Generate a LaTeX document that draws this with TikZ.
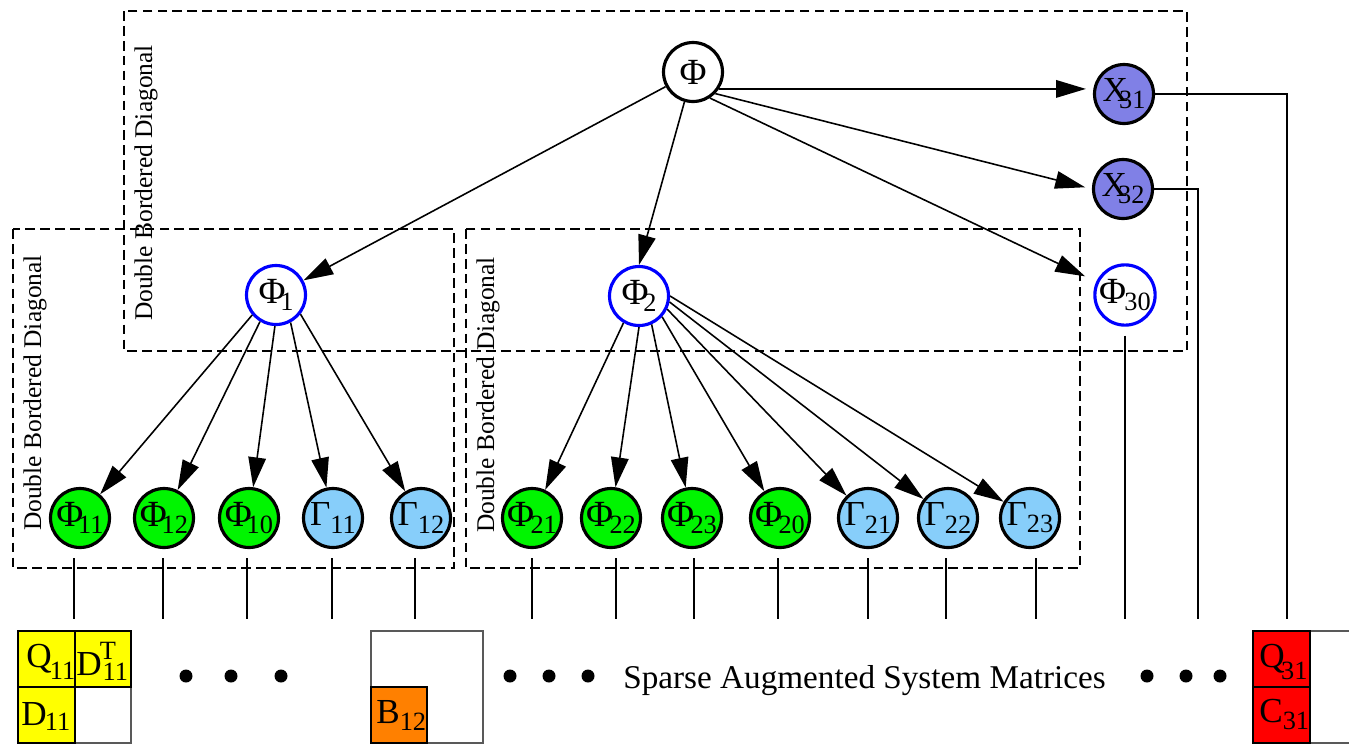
\documentclass[tikz,border=0pt]{standalone}
\usepackage{fontspec}
\setmainfont{Liberation Serif}
\usetikzlibrary{arrows.meta}

\definecolor{phigreen}{RGB}{0,245,0}
\definecolor{gamblue}{RGB}{135,206,250}
\definecolor{xviolet}{RGB}{128,128,230}
\definecolor{matyellow}{RGB}{255,255,0}
\definecolor{matorange}{RGB}{255,128,0}
\definecolor{matred}{RGB}{255,0,0}

\newcommand\bigsz{\fontsize{20}{22}\selectfont}
\newcommand\capsz{\fontsize{18.9}{21}\selectfont}
\newcommand\phisz{\fontsize{21}{22}\selectfont}
\newcommand\subsz{\fontsize{15}{16}\selectfont}
% letter, kern, subscript
\newcommand\nl[3]{#1\kern#2\raisebox{-4pt}{\subsz #3}}
\newcommand\Ph{{\phisz Φ}}

\begin{document}
\begin{tikzpicture}[x=0.02cm,y=-0.02cm,
  vert/.style={circle,draw,line width=1.8pt,minimum size=1.18cm,inner sep=0pt,font=\bigsz},
  root/.style={vert,fill=white},
  grn/.style={vert,fill=phigreen},
  gam/.style={vert,fill=gamblue},
  xv/.style={vert,fill=xviolet},
  blu/.style={vert,draw=blue,fill=white},
  arr/.style={-{Triangle[length=17pt,width=10pt]},line width=0.9pt},
  link/.style={line width=1pt},
  region/.style={draw,dash pattern=on 5.5pt off 3pt,line width=0.9pt},
  regtxt/.style={rotate=90,inner sep=0pt,font=\fontsize{14.5}{16}\selectfont},
  cell/.style={draw,line width=0.6pt},
  outer/.style={draw=black!65,line width=0.8pt},
  lbl/.style={anchor=base west,inner sep=0pt,font=\bigsz},
  dot/.style={circle,fill,inner sep=0pt,minimum size=0.26cm}
]
\useasboundingbox (0,0) rectangle (1349,744);

% dashed regions
\draw[region] (124,11) rectangle (1187,351);
\draw[region] (13,229) rectangle (454,568);
\draw[region] (466,229) rectangle (1080,568);
\node[regtxt] (rtop) at (146,183) {Double Bordered Diagonal};
\node[regtxt] (rleft) at (35,393) {Double Bordered Diagonal};
\node[regtxt] (rmid) at (488,395) {Double Bordered Diagonal};

% tree nodes
\node[root] (phi) at (693,72) {\Ph};
\node[xv] (x31) at (1124,94) {\nl{X}{-5pt}{31}};
\node[xv] (x32) at (1123,189) {\nl{X}{-5pt}{32}};
\node[blu] (p30) at (1125,295) {\nl{\Ph}{-1pt}{30}};
\node[blu] (p1) at (276,295) {\nl{\Ph}{-3pt}{1}};
\node[blu] (p2) at (639,296) {\nl{\Ph}{-3pt}{2}};

\node[grn] (f11) at (80,518) {\nl{\Ph}{-3pt}{11}};
\node[grn] (f12) at (164,518) {\nl{\Ph}{-3pt}{12}};
\node[grn] (f10) at (249,518) {\nl{\Ph}{-3pt}{10}};
\node[gam] (g11) at (333,518) {\nl{Γ}{0pt}{11}};
\node[gam] (g12) at (421,518) {\nl{Γ}{0pt}{12}};

\node[grn] (f21) at (532,518) {\nl{\Ph}{-2pt}{21}};
\node[grn] (f22) at (611,518) {\nl{\Ph}{-2pt}{22}};
\node[grn] (f23) at (692,518) {\nl{\Ph}{-2pt}{23}};
\node[grn] (f20) at (780,518) {\nl{\Ph}{-2pt}{20}};
\node[gam] (g21) at (868,518) {\nl{Γ}{0pt}{21}};
\node[gam] (g22) at (948,518) {\nl{Γ}{0pt}{22}};
\node[gam] (g23) at (1030,518) {\nl{Γ}{0pt}{23}};

% arrows from the root
\draw[arr] (phi) -- (p1);
\draw[arr] (phi.-106) -- (p2.north);
\draw[arr,shorten >=4pt] (phi.-33) -- (phi.-33 -| x31.west);
\draw[arr,shorten >=4pt] (phi.-44) -- (x32.west);
\draw[arr,shorten >=7pt] (phi.-57) -- (p30.155);

% arrows from Phi_1
\draw[arr] (p1.-140) -- (f11);
\draw[arr] (p1.-121) -- (f12);
\draw[arr] (p1.-92) -- (f10);
\draw[arr] (p1.-62) -- (g11);
\draw[arr] (p1.-38) -- (g12);

% arrows from Phi_2
\draw[arr] (p2.-120) -- (f21);
\draw[arr] (p2.-90) -- (f22);
\draw[arr] (p2.-66) -- (f23);
\draw[arr] (p2.-42) -- (f20);
\draw[arr] (p2.-25) -- (g21);
\draw[arr] (p2.-11) -- (g22);
\draw[arr] (p2.0) -- (g23);

% drops to the system matrices
\draw[link] (f11.south) ++(-6,9) -- ++(0,61);
\draw[link] (f12.south) ++(-1,9) -- ++(0,61);
\draw[link] (f10.south) ++(-2,9) -- ++(0,61);
\draw[link] (g11.south) ++(-1,9) -- ++(0,61);
\draw[link] (g12.south) ++(-6,9) -- ++(0,61);
\draw[link] (f21.south) ++(0,9) -- ++(0,61);
\draw[link] (f22.south) ++(5,9) -- ++(0,61);
\draw[link] (f23.south) ++(2,9) -- ++(0,61);
\draw[link] (f20.south) ++(-2,9) -- ++(0,61);
\draw[link] (g21.south) ++(0,9) -- ++(0,61);
\draw[link] (g22.south) ++(-2,9) -- ++(0,61);
\draw[link] (g23.south) ++(6,9) -- ++(0,61);
\coordinate (m3a) at (1287,619);
\coordinate (m3b) at (1198,619);
\coordinate (m3c) at (1125,619);
\draw[link] (x31.east) -- (x31.east -| m3a) -- (m3a);
\draw[link] (x32.east) -- (x32.east -| m3b) -- (m3b);
\draw[link] (p30.south) ++(0,9) -- (m3c);

% first matrix
\draw[outer] (18,631) rectangle (131,743);
\draw[cell,fill=matyellow] (18,631) rectangle (75,687);
\draw[cell,fill=matyellow] (75,631) rectangle (131,687);
\draw[cell,fill=matyellow] (18,687) rectangle (75,743);
\node[lbl] (q11) at (26,667) {Q\kern-1pt\raisebox{-7pt}{\subsz 11}};
\node[lbl] (dt11) at (76,675) {D\kern-1pt\rlap{\raisebox{9pt}{\subsz T}}\kern1.5pt\raisebox{-3pt}{\subsz 11}};
\node[lbl] (d11) at (21,725) {D\kern-1pt\raisebox{-3pt}{\subsz 11}};

% second matrix
\draw[outer] (371,631) rectangle (483,743);
\draw[cell,fill=matorange] (371,687) rectangle (427,743);
\node[lbl] (b12) at (376,723) {B\raisebox{-4pt}{\subsz 12}};

% last matrix, running off the right edge
\begin{scope}
  \clip (0,0) rectangle (1349,744);
  \draw[outer] (1253,631) rectangle (1366,743);
\end{scope}
\draw[cell,fill=matred] (1253,631) rectangle (1310,687);
\draw[cell,fill=matred] (1253,687) rectangle (1310,743);
\node[lbl] (q31) at (1259,667) {Q\kern-2pt\raisebox{-7pt}{\subsz 31}};
\node[lbl] (c31) at (1259,722) {C\raisebox{-4pt}{\subsz 31}};

% ellipses and caption
\foreach \i/\x in {1/186,2/231,3/281,4/510,5/549,6/588,7/1147,8/1186,9/1220}
  \node[dot] (dot\i) at (\x,676) {};
\node[lbl,font=\capsz] (caption) at (623,688) {Sparse Augmented System Matrices};
\end{tikzpicture}
\end{document}
